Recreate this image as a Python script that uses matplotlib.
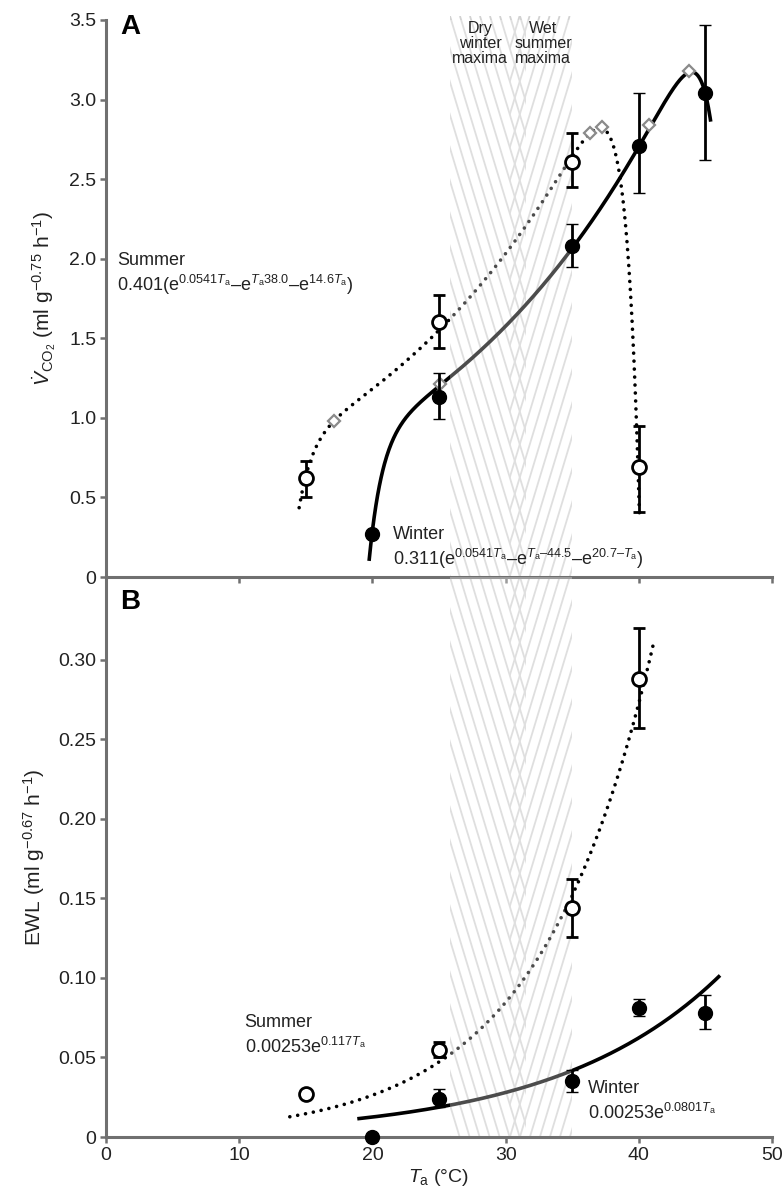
import numpy as np
import matplotlib
matplotlib.use("Agg")
import matplotlib.pyplot as plt
from matplotlib.collections import LineCollection
from matplotlib.patches import Rectangle

plt.rcParams['font.family'] = ['Liberation Sans', 'DejaVu Sans']
plt.rcParams['mathtext.fontset'] = 'custom'
plt.rcParams['mathtext.rm'] = 'Liberation Sans'
plt.rcParams['mathtext.it'] = 'Liberation Sans:italic'
plt.rcParams['mathtext.bf'] = 'Liberation Sans:bold'

# ---- Panel A: CO2 production ----
temps_summer_a = [15, 25, 35, 40]
vco2_summer = [0.62, 1.60, 2.61, 0.69]
vco2_summer_lo = [0.50, 1.44, 2.45, 0.41]
vco2_summer_hi = [0.73, 1.77, 2.79, 0.95]

temps_winter_a = [20, 25, 35, 40, 45]
vco2_winter = [0.27, 1.13, 2.08, 2.71, 3.04]
vco2_winter_lo = [0.27, 0.99, 1.95, 2.41, 2.62]
vco2_winter_hi = [0.27, 1.28, 2.22, 3.04, 3.47]

# predicted points on the fitted curves
diamond_t = [17.1, 25.1, 36.3, 37.2, 40.8, 43.8]
diamond_v = [0.98, 1.21, 2.79, 2.83, 2.84, 3.18]

# ---- Panel B: evaporative water loss ----
temps_summer_b = [15, 25, 35, 40]
ewl_summer = [0.027, 0.055, 0.144, 0.288]
ewl_summer_lo = [0.027, 0.050, 0.126, 0.257]
ewl_summer_hi = [0.027, 0.060, 0.162, 0.320]

temps_winter_b = [20, 25, 35, 40, 45]
ewl_winter = [0.0, 0.024, 0.035, 0.081, 0.078]
ewl_winter_lo = [0.0, 0.019, 0.028, 0.076, 0.068]
ewl_winter_hi = [0.0, 0.030, 0.042, 0.087, 0.089]

# seasonal body temperature maxima bands
dry_band = (25.8, 31.5)
wet_band = (30.3, 35.0)


def vco2_summer_fit(t):
    return 0.401 * (np.exp(0.0541 * t) - np.exp(t - 38.0) - np.exp(14.6 - t))


def vco2_winter_fit(t):
    return 0.311 * (np.exp(0.0541 * t) - np.exp(t - 44.5) - np.exp(20.7 - t))


def ewl_summer_fit(t):
    return 0.00253 * np.exp(0.117 * t)


def ewl_winter_fit(t):
    return 0.00253 * np.exp(0.0801 * t)


W, H = 783, 1196
fig = plt.figure(figsize=(W / 100, H / 100), dpi=100)
fig.patch.set_facecolor('white')

left_px, right_px = 106, 772
top_a, mid_px, bot_px = 20, 577, 1137
lx = left_px / W
wx = (right_px - left_px) / W
ax_a = fig.add_axes([lx, 1 - mid_px / H, wx, (mid_px - top_a) / H])
ax_b = fig.add_axes([lx, 1 - bot_px / H, wx, (bot_px - mid_px) / H])

# hatch layer spanning both panels
hatch_top = 16
ax_h = fig.add_axes([lx, 1 - bot_px / H, wx, (bot_px - hatch_top) / H], zorder=0)
ax_h.set_xlim(0, 50)
hpx = bot_px - hatch_top
ax_h.set_ylim(0, hpx)
ax_h.axis('off')
px_per_unit = (right_px - left_px) / 50.0
slope = 3.3
period = 10.0 / px_per_unit
shift = hpx / slope / px_per_unit
hatch_col = '#d2d2d2'


def hatch_band(x0, x1, direction):
    segs = []
    start = x0 - shift - period
    xs = np.arange(start, x1 + shift + period, period)
    for xt in xs:
        if direction > 0:
            segs.append([(xt, hpx), (xt + shift, 0)])
        else:
            segs.append([(xt + shift, hpx), (xt, 0)])
    lc = LineCollection(segs, colors=hatch_col, linewidths=1.3)
    clip = Rectangle((x0, 0), x1 - x0, hpx, transform=ax_h.transData)
    ax_h.add_collection(lc)
    lc.set_clip_path(clip)


hatch_band(*dry_band, 1)
hatch_band(*wet_band, -1)

text_col = '#222222'
spine_col = '#707070'
tick_fs = 14

for ax in (ax_a, ax_b):
    ax.set_facecolor('none')
    ax.set_zorder(1)
    ax.set_xlim(0, 50)
    for s in ('top', 'right'):
        ax.spines[s].set_visible(False)
    for s in ('left', 'bottom'):
        ax.spines[s].set_color(spine_col)
        ax.spines[s].set_linewidth(2.2)
    ax.tick_params(direction='out', length=4, width=1.8, color=spine_col,
                   labelsize=tick_fs, labelcolor=text_col, pad=3)
    ax.set_xticks([0, 10, 20, 30, 40, 50])
    # the banded zone softens the fitted curves that cross it
    ax.axvspan(dry_band[0], wet_band[1], facecolor='white', alpha=0.3,
               edgecolor='none', zorder=2.5)

ax_a.tick_params(axis='x', labelbottom=False)

# ---- Panel A drawing ----
ax_a.set_ylim(0, 3.5)
ax_a.set_yticks([0, 0.5, 1.0, 1.5, 2.0, 2.5, 3.0, 3.5])
ax_a.set_yticklabels(['0', '0.5', '1.0', '1.5', '2.0', '2.5', '3.0', '3.5'])

ts = np.linspace(14.5, 40.05, 600)
ax_a.plot(ts, vco2_summer_fit(ts), color='black', lw=2.6,
          ls=(0, (0.01, 2.2)), dash_capstyle='round', zorder=2)
tw = np.linspace(19.75, 45.4, 600)
ax_a.plot(tw, vco2_winter_fit(tw), color='black', lw=2.6, zorder=2,
          solid_capstyle='butt')

ax_a.plot(diamond_t, diamond_v, ls='none', marker='D', ms=6.5, mfc='white',
          mec='#8a8a8a', mew=1.6, zorder=3)

err_kw = dict(ls='none', ecolor='black', elinewidth=2.0, capsize=4,
              capthick=2.0, zorder=4)
ax_a.errorbar(temps_summer_a, vco2_summer,
              yerr=[np.subtract(vco2_summer, vco2_summer_lo),
                    np.subtract(vco2_summer_hi, vco2_summer)],
              marker='o', ms=10, mfc='white', mec='black', mew=2.0, **err_kw)
ax_a.errorbar(temps_winter_a, vco2_winter,
              yerr=[np.subtract(vco2_winter, vco2_winter_lo),
                    np.subtract(vco2_winter_hi, vco2_winter)],
              marker='o', ms=10, mfc='black', mec='black', mew=1.0, **err_kw)

ax_a.set_ylabel(r'$\dot{V}_{\mathrm{CO_2}}$ (ml g$^{-0.75}$ h$^{-1}$)',
                fontsize=15, color=text_col, labelpad=8)

ax_a.text(1.05, 3.455, 'A', fontsize=20, fontweight='bold', color='black',
          va='center', ha='left')

ta = r'\mathit{T}_\mathrm{a}'
eq_fs = 13
ax_a.text(0.85, 1.96, 'Summer', fontsize=eq_fs, color=text_col, va='baseline',
          zorder=5)
ax_a.text(0.85, 1.80,
          '0.401(e$^{0.0541' + ta + '}$–e$^{' + ta + '38.0}$–e$^{14.6' + ta + '}$)',
          fontsize=eq_fs, color=text_col, va='baseline', zorder=5)
ax_a.text(21.55, 0.24, 'Winter', fontsize=eq_fs, color=text_col, va='baseline',
          zorder=5)
ax_a.text(21.55, 0.075,
          '0.311(e$^{0.0541' + ta + '}$–e$^{' + ta + '–44.5}$–e$^{20.7–' + ta + '}$)',
          fontsize=eq_fs, color=text_col, va='baseline', zorder=5)

ax_a.text(28.1, 3.495, 'Dry\nwinter\nmaxima', fontsize=11.5, color=text_col,
          ha='center', va='top', linespacing=1.0, zorder=5)
ax_a.text(32.8, 3.495, 'Wet\nsummer\nmaxima', fontsize=11.5, color=text_col,
          ha='center', va='top', linespacing=1.0, zorder=5)

# ---- Panel B drawing ----
ax_b.set_ylim(0, 0.352)
ax_b.set_yticks([0, 0.05, 0.10, 0.15, 0.20, 0.25, 0.30])
ax_b.set_yticklabels(['0', '0.05', '0.10', '0.15', '0.20', '0.25', '0.30'])

tsb = np.linspace(13.8, 41.1, 400)
ax_b.plot(tsb, ewl_summer_fit(tsb), color='black', lw=2.6,
          ls=(0, (0.01, 2.2)), dash_capstyle='round', zorder=2)
twb = np.linspace(19.0, 46.0, 400)
ax_b.plot(twb, ewl_winter_fit(twb), color='black', lw=2.6, zorder=2)

ax_b.errorbar(temps_summer_b, ewl_summer,
              yerr=[np.subtract(ewl_summer, ewl_summer_lo),
                    np.subtract(ewl_summer_hi, ewl_summer)],
              marker='o', ms=10, mfc='white', mec='black', mew=2.0, **err_kw)
ax_b.errorbar(temps_winter_b, ewl_winter,
              yerr=[np.subtract(ewl_winter, ewl_winter_lo),
                    np.subtract(ewl_winter_hi, ewl_winter)],
              marker='o', ms=10, mfc='black', mec='black', mew=1.0,
              clip_on=False, **err_kw)

ax_b.set_ylabel('EWL (ml g$^{-0.67}$ h$^{-1}$)', fontsize=15,
                color=text_col, labelpad=8)
ax_b.set_xlabel(r'$\mathit{T}_\mathrm{a}$ (°C)', fontsize=14, color=text_col,
                labelpad=2)

ax_b.text(1.05, 0.336, 'B', fontsize=20, fontweight='bold', color='black',
          va='center', ha='left')

ax_b.text(10.4, 0.069, 'Summer', fontsize=eq_fs, color=text_col, va='baseline',
          zorder=5)
ax_b.text(10.4, 0.0528, '0.00253e$^{0.117' + ta + '}$', fontsize=eq_fs,
          color=text_col, va='baseline', zorder=5)
ax_b.text(36.2, 0.0276, 'Winter', fontsize=eq_fs, color=text_col, va='baseline',
          zorder=5)
ax_b.text(36.2, 0.0113, '0.00253e$^{0.0801' + ta + '}$', fontsize=eq_fs,
          color=text_col, va='baseline', zorder=5)

fig.savefig('out.png', dpi=100, facecolor='white')
